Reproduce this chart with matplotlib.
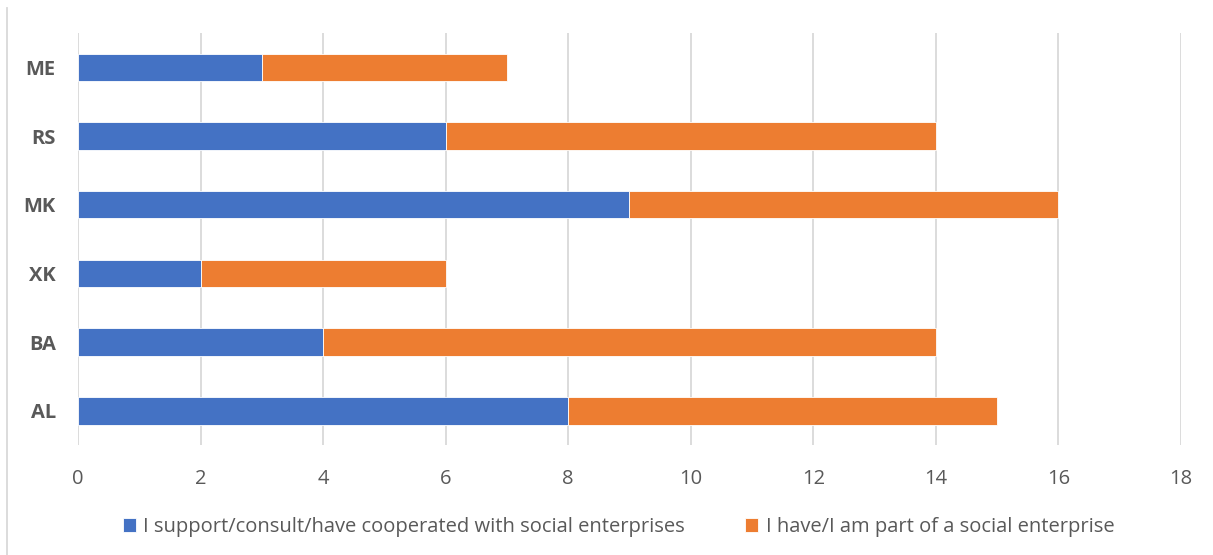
import numpy as np
import matplotlib.pyplot as plt
from matplotlib.lines import Line2D

countries = ['AL', 'BA', 'XK', 'MK', 'RS', 'ME']
support = [8, 4, 2, 9, 6, 3]
part_of = [7, 10, 4, 7, 8, 4]
series_names = ['I support/consult/have cooperated with social enterprises',
                'I have/I am part of a social enterprise']
xticks = list(range(0, 20, 2))

blue = '#4472c4'
orange = '#ed7d31'
grid_grey = '#d9d9d9'
text_grey = '#595959'

plt.rcParams['font.family'] = ['Open Sans', 'DejaVu Sans']

fig = plt.figure(figsize=(12.13, 5.55), dpi=100)
ax = fig.add_axes([0.0643, 0.198, 0.9093, 0.7425])

y = np.arange(len(countries))
ax.barh(y, support, height=0.4, color=blue, edgecolor='white', linewidth=0.6,
        label=series_names[0], zorder=3)
ax.barh(y, part_of, left=support, height=0.4, color=orange, edgecolor='white',
        linewidth=0.6, label=series_names[1], zorder=3)

ax.set_xlim(0, 18)
ax.set_ylim(-0.5, len(countries) - 0.5)
ax.set_xticks(xticks)
ax.set_yticks(y)
ax.set_yticklabels(countries, fontsize=14.5, fontweight='bold', color=text_grey)
ax.tick_params(axis='x', labelsize=14.5, colors=text_grey, length=0, pad=17)
ax.tick_params(axis='y', length=0, pad=16)
ax.grid(axis='x', color=grid_grey, linewidth=1.3, zorder=0)
for s in ax.spines.values():
    s.set_visible(False)

# thin frame edge on the left
fig.add_artist(Line2D([0.0058, 0.0058], [0, 0.986], transform=fig.transFigure,
                      color=grid_grey, linewidth=1.3))

leg = fig.legend(loc='center', bbox_to_anchor=(0.51, 0.05), ncol=2, frameon=False,
                 fontsize=14.5, handlelength=0.65, handleheight=0.65,
                 handletextpad=0.35, columnspacing=3.0)
for t in leg.get_texts():
    t.set_color(text_grey)

fig.savefig('out.png', dpi=100)
